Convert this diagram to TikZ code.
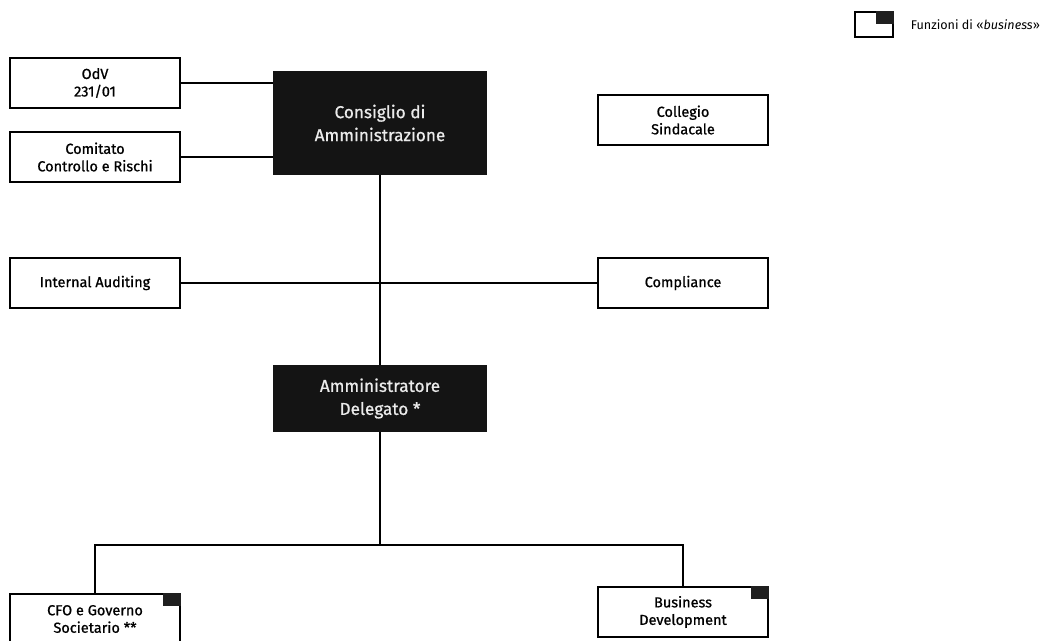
\documentclass[tikz,border=0pt]{standalone}
\usepackage{fontspec}
\setmainfont{Fira Sans}
\newfontfamily\orgfont{Fira Sans}[FakeBold=0.9]
\usetikzlibrary{positioning}

\tikzset{
  unit/.style={draw,line width=1.2pt,minimum width=170pt,minimum height=50pt,
    align=center,inner sep=2pt,font=\orgfont\fontsize{14.5}{17.5}\selectfont},
  board/.style={fill=black!92,text=white!92!black,minimum width=214pt,
    align=center,inner sep=2pt,font=\orgfont\fontsize{17.2}{23}\selectfont},
  link/.style={line width=1.2pt},
}
% small dark square in the top right corner of a business unit
\newcommand{\bizmark}[1]{\fill[black!88] ([xshift=-18pt,yshift=-13pt]#1.north east) rectangle (#1.north east);}

\begin{document}
\begin{tikzpicture}[x=1pt,y=-1pt]
  \useasboundingbox (0,0) rectangle (1043,640);
  \clip (0,0) rectangle (1043,640);

  % legend
  \node[draw,line width=1.2pt,minimum width=38pt,minimum height=25pt] at (874,24.5) (leg){};
  \bizmark{leg}
  \node[anchor=west,inner sep=0pt,font=\fontsize{12.6}{14}\selectfont] at ([xshift=17pt]leg.east) (legtxt){Funzioni di «\textit{business}»};

  % top level
  \node[board,minimum height=104pt] at (380,123) (cda){Consiglio di\\Amministrazione};
  \node[unit] at (95,83) (odv){OdV\\231/01};
  \node[unit] at (95,157) (ccr){Comitato\\Controllo e Rischi};
  \node[unit] at (683,120) (cs){Collegio\\Sindacale};
  \draw[link] (odv.east) -- (odv.east -| cda.west);
  \draw[link] (ccr.east) -- (ccr.east -| cda.west);

  % control functions
  \node[unit] at (95,283) (ia){Internal Auditing};
  \node[unit] at (683,283) (comp){Compliance};
  \draw[link] (ia) -- (comp);

  \node[board,minimum height=67pt] at (380,398.5) (ad){Amministratore\\Delegato *};
  \draw[link] (cda) -- (ad);

  % business functions
  \node[unit] at (95,619) (cfo){CFO e Governo\\Societario **};
  \node[unit] at (683,612) (bd){Business\\Development};
  \bizmark{cfo}
  \bizmark{bd}
  \coordinate (bus) at (380,545);
  \draw[link] (ad) -- (bus);
  \draw[link] (bus) -| (cfo.north);
  \draw[link] (bus) -| (bd.north);

\end{tikzpicture}
\end{document}
